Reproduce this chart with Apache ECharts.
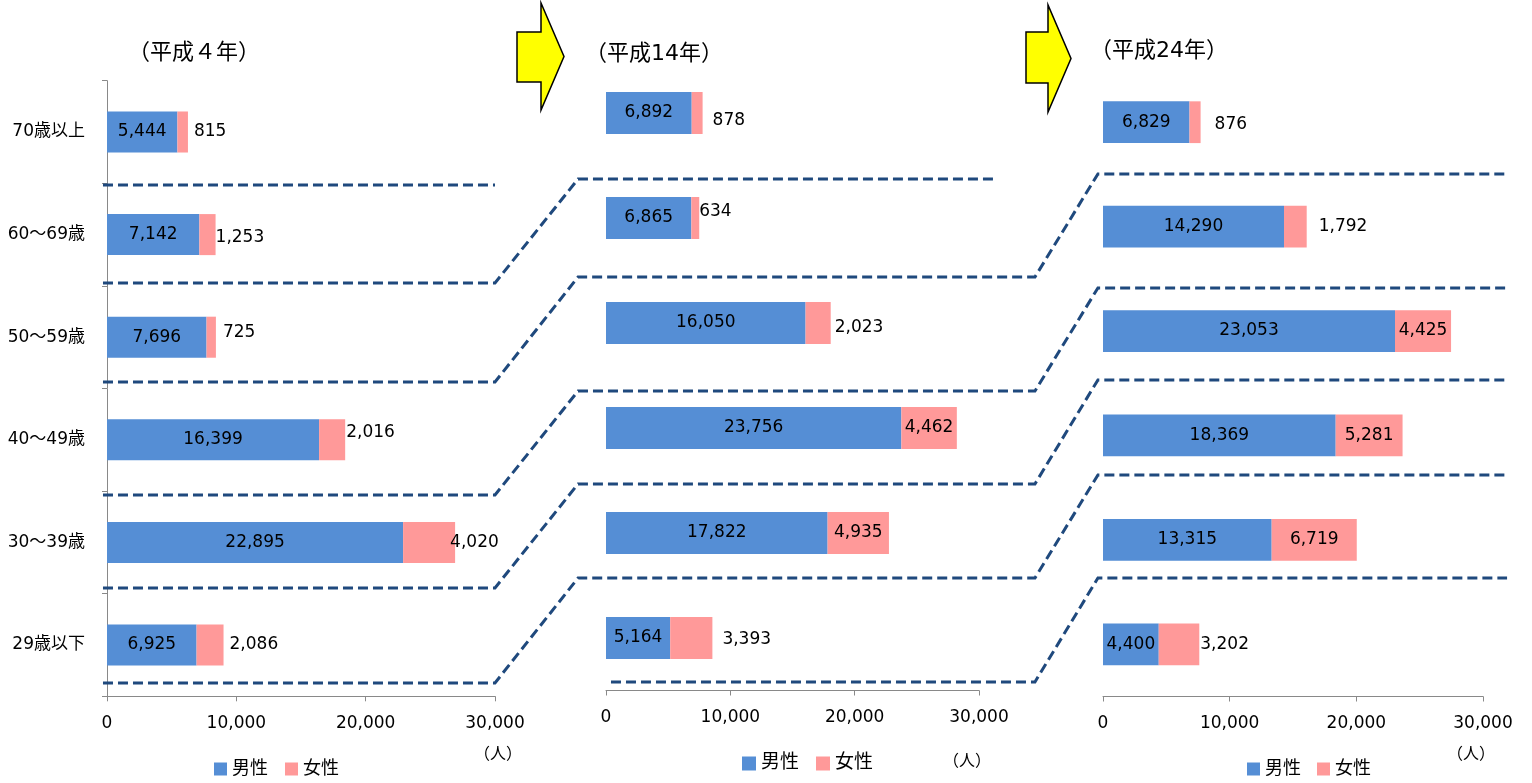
<!DOCTYPE html>
<html lang="ja">
<head>
<meta charset="utf-8">
<title>年齢階層別・男女別人数の推移</title>
<script src="https://cdn.jsdelivr.net/npm/echarts@6/dist/echarts.min.js"></script>
<style>
  html, body { margin: 0; padding: 0; background: #ffffff; }
  #chart { width: 1532px; height: 783px; }
</style>
</head>
<body>
<div id="chart"></div>
<script>
// ---- data ----------------------------------------------------------------
const categories = ['29歳以下', '30～39歳', '40～49歳', '50～59歳', '60～69歳', '70歳以上'];
const panelTitles = ['（平成４年）', '（平成14年）', '（平成24年）'];
const seriesNames = ['男性', '女性'];
const unitLabel = '（人）';
const xTicks = [0, 10000, 20000, 30000];

const maleH4 = [6925, 22895, 16399, 7696, 7142, 5444];
const femaleH4 = [2086, 4020, 2016, 725, 1253, 815];
const maleH14 = [5164, 17822, 23756, 16050, 6865, 6892];
const femaleH14 = [3393, 4935, 4462, 2023, 634, 878];
const maleH24 = [4400, 13315, 18369, 23053, 14290, 6829];
const femaleH24 = [3202, 6719, 5281, 4425, 1792, 876];

const maleByPanel = [maleH4, maleH14, maleH24];
const femaleByPanel = [femaleH4, femaleH14, femaleH24];

// ---- layout & style ------------------------------------------------------
const FONT = "'DejaVu Sans', 'Noto Sans CJK JP', sans-serif";
const MALE_COLOR = '#558ED5';
const FEMALE_COLOR = '#FF9999';
const AXIS_COLOR = '#898989';
const COHORT_COLOR = '#1F497D';

const grids = [
  { left: 107, top: 80.7, width: 388, height: 615.6 },
  { left: 606, top: 60.5, width: 373, height: 630 },
  { left: 1103, top: 70, width: 380, height: 626.5 }
];

// where each female value label sits: [position, distance, vertical shift]
const femaleLabelPlacement = [
  [['right', 6, 0], ['right', -5, 0], ['right', 1, -7], ['right', 7, -5], ['right', 0, 3], ['right', 6, 0]],
  [['right', 10, 2], ['inside', 0, 0], ['inside', 0, 0], ['right', 4, 5], ['right', 0, -6], ['right', 10, 8]],
  [['right', 1, 0], ['inside', 0, 0], ['inside', 0, 0], ['inside', 0, 0], ['right', 12, 0], ['right', 14, 2]]
];

const titleSpots = [{ left: 128, top: 42 }, { left: 585, top: 43 }, { left: 1090, top: 40 }];
const unitSpots = [{ left: 474, top: 747 }, { left: 943, top: 754 }, { left: 1447, top: 747 }];
const legendSpots = [
  { left: 214, top: 760, icon: 13, font: 18, gap: 17 },
  { left: 742, top: 754, icon: 14, font: 19, gap: 17 },
  { left: 1247, top: 760, icon: 13, font: 18, gap: 16 }
];

// dashed cohort boundaries: each chain follows one age boundary from panel to panel.
// entries are [panel, position in category units (0 = centre of the lowest band)]
const cohortChains = [
  [[0, 4.483]],
  [[0, 3.528], [1, 4.371]],
  [[0, 2.563], [1, 3.438], [2, 4.505]],
  [[0, 1.462], [1, 2.352], [2, 3.413]],
  [[0, 0.556], [1, 1.467], [2, 2.532]],
  [[0, -0.370], [1, 0.571], [2, 1.622]],
  [[1, -0.419], [2, 0.635]]
];
// horizontal extents of the boundaries, in axis units of each panel
const cohortSpan = [
  { freshStart: -310, joinStart: -310, joinEnd: 30000, stopEnd: 30000 },
  { freshStart: 400, joinStart: -2250, joinEnd: 34500, stopEnd: 31500 },
  { freshStart: -400, joinStart: -400, joinEnd: 31900, stopEnd: 31900 }
];

const fmt = v => Number(v).toLocaleString('en-US');

// ---- option --------------------------------------------------------------
const option = {
  animation: false,
  backgroundColor: '#ffffff',
  textStyle: { fontFamily: FONT },
  title: [
    ...panelTitles.map((t, k) => ({
      text: t, left: titleSpots[k].left, top: titleSpots[k].top, padding: 0,
      textStyle: { fontFamily: FONT, fontSize: 22, fontWeight: 'normal', color: '#000' }
    })),
    ...unitSpots.map(s => ({
      text: unitLabel, left: s.left, top: s.top, padding: 0,
      textStyle: { fontFamily: FONT, fontSize: 16, fontWeight: 'normal', color: '#000' }
    }))
  ],
  legend: legendSpots.map(l => ({
    data: seriesNames, left: l.left, top: l.top, padding: 0,
    icon: 'rect', itemWidth: l.icon, itemHeight: l.icon, itemGap: l.gap,
    selectedMode: false,
    textStyle: { fontFamily: FONT, fontSize: l.font, color: '#000' }
  })),
  grid: grids.map(g => Object.assign({ containLabel: false }, g)),
  xAxis: grids.map((g, k) => ({
    type: 'value', gridIndex: k,
    min: xTicks[0], max: xTicks[xTicks.length - 1], interval: xTicks[1] - xTicks[0],
    axisLine: { show: true, lineStyle: { color: AXIS_COLOR, width: 1 } },
    axisTick: { show: true, length: 5, lineStyle: { color: AXIS_COLOR } },
    splitLine: { show: false },
    axisLabel: { margin: 19, fontFamily: FONT, fontSize: 17, color: '#000', formatter: fmt }
  })),
  yAxis: grids.map((g, k) => ({
    type: 'category', gridIndex: k, data: categories,
    axisLine: { show: k === 0, lineStyle: { color: AXIS_COLOR, width: 1 } },
    axisTick: { show: k === 0, length: 5, lineStyle: { color: AXIS_COLOR } },
    axisLabel: { show: k === 0, margin: 22, fontFamily: FONT, fontSize: 17, color: '#000' },
    splitLine: { show: false }
  })),
  series: []
};

maleByPanel.forEach((male, k) => {
  option.series.push({
    name: seriesNames[0], type: 'bar', stack: 'panel' + k,
    xAxisIndex: k, yAxisIndex: k, barWidth: '40%',
    itemStyle: { color: MALE_COLOR },
    label: {
      show: true, position: 'inside', color: '#000', fontFamily: FONT, fontSize: 17,
      textBorderWidth: 0, formatter: p => fmt(p.value)
    },
    data: male
  });
  option.series.push({
    name: seriesNames[1], type: 'bar', stack: 'panel' + k,
    xAxisIndex: k, yAxisIndex: k, barWidth: '40%',
    itemStyle: { color: FEMALE_COLOR },
    label: {
      show: true, color: '#000', fontFamily: FONT, fontSize: 17,
      textBorderWidth: 0, formatter: p => fmt(p.value)
    },
    data: femaleByPanel[k].map((v, i) => {
      const [pos, dist, dy] = femaleLabelPlacement[k][i];
      return { value: v, label: { position: pos, distance: dist, offset: [0, dy] } };
    })
  });
});

const chart = echarts.init(document.getElementById('chart'), null, { renderer: 'canvas' });
chart.setOption(option);

// ---- decorations: yellow arrows and dashed cohort boundaries --------------
function arrowShape(x0, bodyTop, bodyBottom, neck, headTop, headBottom, tip) {
  const mid = (headTop + headBottom) / 2;
  return [[x0, bodyTop], [neck, bodyTop], [neck, headTop], [tip, mid],
          [neck, headBottom], [neck, bodyBottom], [x0, bodyBottom]];
}

const graphics = [
  {
    type: 'polygon', z: 10,
    shape: { points: arrowShape(517, 32, 82, 541, 3, 110, 564) },
    style: { fill: '#FFFF00', stroke: '#000', lineWidth: 1.5 }
  },
  {
    type: 'polygon', z: 10,
    shape: { points: arrowShape(1026, 32, 83, 1048, 5, 112, 1071) },
    style: { fill: '#FFFF00', stroke: '#000', lineWidth: 1.5 }
  }
];

function bandY(panel, u) {
  const c0 = chart.convertToPixel({ yAxisIndex: panel }, 0);
  const c1 = chart.convertToPixel({ yAxisIndex: panel }, 1);
  return c0 + u * (c1 - c0);
}
function valueX(panel, v) {
  return chart.convertToPixel({ xAxisIndex: panel }, v);
}

cohortChains.forEach(chain => {
  const pts = [];
  chain.forEach(([panel, u], j) => {
    const span = cohortSpan[panel];
    const y = bandY(panel, u);
    const xs = j === 0 ? span.freshStart : span.joinStart;
    const xe = j < chain.length - 1 ? span.joinEnd : span.stopEnd;
    pts.push([valueX(panel, xs), y], [valueX(panel, xe), y]);
  });
  graphics.push({
    type: 'polyline', z: 1, silent: true,
    shape: { points: pts },
    style: { stroke: COHORT_COLOR, lineWidth: 3, lineDash: [10, 5], fill: null }
  });
});

chart.setOption({ graphic: graphics });
</script>
</body>
</html>
